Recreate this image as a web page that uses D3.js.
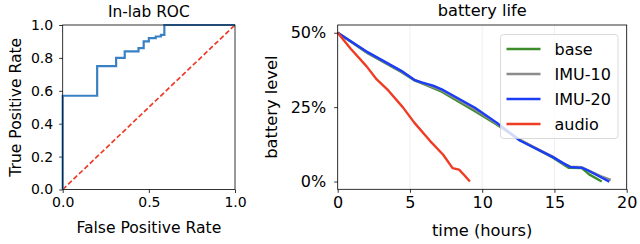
<!DOCTYPE html>
<html>
<head>
<meta charset="utf-8">
<script src="https://cdn.jsdelivr.net/npm/d3@7"></script>
<style>
	body { margin: 0; background: #fff; }
	svg { font-family: "DejaVu Sans", sans-serif; display: block; }
</style>
</head>
<body>
<svg id="chart" width="640" height="244"></svg>
<script>
// ROC curve (left panel)
var rocFpr = [0, 0, 0.2, 0.2, 0.31, 0.31, 0.36, 0.36, 0.44, 0.44, 0.47, 0.47, 0.5, 0.5, 0.54, 0.54, 0.57, 0.57, 0.59, 0.59, 1.0];
var rocTpr = [0, 0.57, 0.57, 0.75, 0.75, 0.80, 0.80, 0.84, 0.84, 0.86, 0.86, 0.90, 0.90, 0.92, 0.92, 0.93, 0.93, 0.94, 0.94, 1.0, 1.0];
var rocTicksX = [0, 0.5, 1.0];
var rocTicksY = [0, 0.2, 0.4, 0.6, 0.8, 1.0];

// battery life (right panel), hours vs level in %
var seriesNames = ["base", "IMU-10", "IMU-20", "audio"];
var seriesColors = ["#3c8c2c", "#8c8c8c", "#1a3cf5", "#f03c24"];

var baseHours = [0, 2.1, 4.4, 5.3, 5.8, 7.2, 9.5, 11.0, 12.6, 14.9, 15.6, 16.0, 16.9, 17.4, 18.27];
var baseLevel = [50, 43.0, 36.8, 34.0, 33.1, 30.2, 23.6, 19.2, 14.0, 8.0, 5.8, 4.6, 4.5, 2.4, 0];

var imu10Hours = [0, 2.1, 4.4, 5.3, 5.8, 7.2, 9.5, 11.0, 12.6, 14.9, 15.6, 16.1, 16.9, 17.4, 18.2, 18.9];
var imu10Level = [50, 43.2, 37.0, 34.1, 33.2, 30.6, 24.2, 19.5, 14.0, 8.3, 6.0, 5.0, 4.8, 3.6, 1.8, 0.6];

var imu20Hours = [0, 2.1, 4.4, 5.3, 5.8, 6.6, 7.2, 9.5, 11.0, 12.6, 14.9, 15.6, 16.1, 16.9, 17.3, 18.15, 18.8];
var imu20Level = [50, 43.4, 37.2, 34.2, 33.3, 32.2, 31.0, 24.8, 19.8, 13.8, 8.2, 6.2, 4.9, 4.6, 3.8, 1.6, 0];

var audioHours = [0, 0.9, 2.0, 2.7, 3.5, 4.5, 5.3, 6.4, 7.3, 7.95, 8.4, 8.75, 9.15];
var audioLevel = [50, 44.6, 38.7, 34.3, 30.6, 25.0, 19.8, 13.6, 9.0, 4.5, 4.0, 2.2, 0];

var batteryTicksX = [0, 5, 10, 15, 20];
var batteryTicksY = [0, 25, 50];

var svg = d3.select("#chart");

function zip(xs, ys) {
	return xs.map(function(x, i) { return [x, ys[i]]; });
}

function styleAxis(g, fontSize) {
	g.select(".domain").remove();
	g.selectAll(".tick line").attr("stroke", "#000").attr("stroke-width", 0.8);
	g.selectAll(".tick text")
		.attr("fill", "#000")
		.attr("font-size", fontSize)
		.attr("font-family", "DejaVu Sans, sans-serif");
}

function frame(x0, x1, y0, y1) {
	svg.append("rect")
		.attr("x", x0).attr("y", y0)
		.attr("width", x1 - x0).attr("height", y1 - y0)
		.attr("fill", "none")
		.attr("stroke", "#000")
		.attr("stroke-width", 0.8);
}

// ---------- left: ROC ----------
var L = {left: 62.7, right: 235, top: 25, bottom: 189.5};
var rx = d3.scaleLinear().domain([0, 1]).range([L.left, L.right]);
var ry = d3.scaleLinear().domain([0, 1]).range([L.bottom, L.top]);

svg.append("g")
	.attr("transform", "translate(0," + L.bottom + ")")
	.call(d3.axisBottom(rx).tickValues(rocTicksX).tickFormat(d3.format(".1f")).tickSizeOuter(0).tickSize(3.5).tickPadding(4))
	.call(styleAxis, "14px");

svg.append("g")
	.attr("transform", "translate(" + L.left + ",0)")
	.call(d3.axisLeft(ry).tickValues(rocTicksY).tickFormat(d3.format(".1f")).tickSizeOuter(0).tickSize(3.5).tickPadding(6))
	.call(styleAxis, "14px");

var rocLine = d3.line().x(function(d) { return rx(d[0]); }).y(function(d) { return ry(d[1]); });

svg.append("path")
	.datum([[0, 0], [1, 1]])
	.attr("d", rocLine)
	.attr("fill", "none")
	.attr("stroke", "#ec3b26")
	.attr("stroke-width", 1.7)
	.attr("stroke-dasharray", "5,2.5");

svg.append("path")
	.datum(zip(rocFpr, rocTpr))
	.attr("d", rocLine)
	.attr("fill", "none")
	.attr("stroke", "#3a80c4")
	.attr("stroke-width", 2.2);

frame(L.left, L.right, L.top, L.bottom);

svg.append("text")
	.attr("x", (L.left + L.right) / 2).attr("y", 17)
	.attr("text-anchor", "middle").attr("font-size", "15.4px")
	.text("In-lab ROC");

svg.append("text")
	.attr("x", (L.left + L.right) / 2).attr("y", 233)
	.attr("text-anchor", "middle").attr("font-size", "15.6px")
	.text("False Positive Rate");

svg.append("text")
	.attr("transform", "translate(21," + ((L.top + L.bottom) / 2) + ") rotate(-90)")
	.attr("text-anchor", "middle").attr("font-size", "15.6px")
	.text("True Positive Rate");

// ---------- right: battery life ----------
var R = {left: 337.7, right: 626.7, top: 25, bottom: 189.3};
var bx = d3.scaleLinear().domain([0, 20]).range([R.left, R.right]);
var by = d3.scaleLinear().domain([-2.6, 52.6]).range([R.bottom, R.top]);

// vertical grid
svg.append("g")
	.selectAll("line")
	.data(batteryTicksX)
	.join("line")
	.attr("x1", function(d) { return bx(d); }).attr("x2", function(d) { return bx(d); })
	.attr("y1", R.top).attr("y2", R.bottom)
	.attr("stroke", "#ececec").attr("stroke-width", 0.8);

svg.append("g")
	.attr("transform", "translate(0," + R.bottom + ")")
	.call(d3.axisBottom(bx).tickValues(batteryTicksX).tickFormat(d3.format("d")).tickSizeOuter(0).tickSize(3.5).tickPadding(4))
	.call(styleAxis, "16px");

svg.append("g")
	.attr("transform", "translate(" + R.left + ",0)")
	.call(d3.axisLeft(by).tickValues(batteryTicksY).tickFormat(function(d) { return d + "%"; }).tickSizeOuter(0).tickSize(3.5).tickPadding(8))
	.call(styleAxis, "16px");

var batteryData = [
	zip(baseHours, baseLevel),
	zip(imu10Hours, imu10Level),
	zip(imu20Hours, imu20Level),
	zip(audioHours, audioLevel)
];

var batteryLine = d3.line()
	.x(function(d) { return bx(d[0]); })
	.y(function(d) { return by(d[1]); });

svg.append("g")
	.selectAll("path")
	.data(batteryData)
	.join("path")
	.attr("d", batteryLine)
	.attr("fill", "none")
	.attr("stroke", function(d, i) { return seriesColors[i]; })
	.attr("stroke-width", 2.4)
	.attr("stroke-linejoin", "round");

frame(R.left, R.right, R.top, R.bottom);

// legend
var legend = svg.append("g").attr("transform", "translate(500.5,34.5)");
legend.append("rect")
	.attr("width", 117.5).attr("height", 104)
	.attr("rx", 3)
	.attr("fill", "#fff").attr("fill-opacity", 0.8)
	.attr("stroke", "#d0d0d0").attr("stroke-width", 0.8);

var legendItems = legend.selectAll(".item")
	.data(seriesNames)
	.join("g")
	.attr("class", "item")
	.attr("transform", function(d, i) { return "translate(0," + (14.5 + i * 25) + ")"; });

legendItems.append("line")
	.attr("x1", 6).attr("x2", 40)
	.attr("stroke", function(d, i) { return seriesColors[i]; })
	.attr("stroke-width", 2.4);

legendItems.append("text")
	.attr("x", 54).attr("y", 5.8)
	.attr("font-size", "16px")
	.text(function(d) { return d; });

svg.append("text")
	.attr("x", (R.left + R.right) / 2).attr("y", 16)
	.attr("text-anchor", "middle").attr("font-size", "16.2px")
	.text("battery life");

svg.append("text")
	.attr("x", (R.left + R.right) / 2).attr("y", 236)
	.attr("text-anchor", "middle").attr("font-size", "16.3px")
	.text("time (hours)");

svg.append("text")
	.attr("transform", "translate(277," + ((R.top + R.bottom) / 2) + ") rotate(-90)")
	.attr("text-anchor", "middle").attr("font-size", "16.3px")
	.text("battery level");
</script>
</body>
</html>
